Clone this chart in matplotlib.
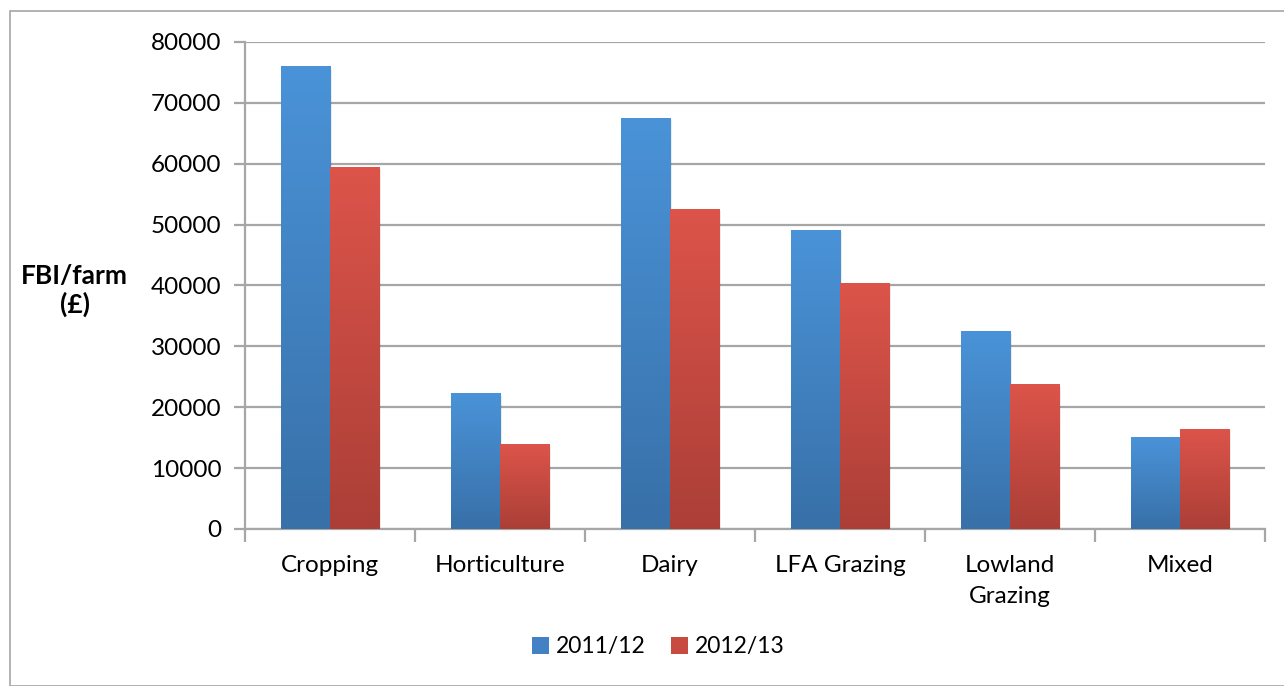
import matplotlib.pyplot as plt
import numpy as np
from matplotlib.colors import LinearSegmentedColormap
from matplotlib.patches import Rectangle, Patch

plt.rcParams['font.family'] = ['Lato', 'DejaVu Sans']

# Data
categories = ['Cropping', 'Horticulture', 'Dairy', 'LFA Grazing', 'Lowland\nGrazing', 'Mixed']
fbi_2011 = [75900, 22200, 67500, 49100, 32400, 15100]
fbi_2012 = [59400, 13800, 52500, 40400, 23700, 16400]
series_names = ['2011/12', '2012/13']

# gradient colours (bottom -> top)
blue_cmap = LinearSegmentedColormap.from_list('b', ['#3870a8', '#4a93d8'])
red_cmap = LinearSegmentedColormap.from_list('r', ['#ab3f37', '#dc544a'])

fig = plt.figure(figsize=(12.84, 6.86), dpi=100)
ax = fig.add_axes([0.1908, 0.2289, 0.7944, 0.7099])

# outer chart border
fig.patches.append(Rectangle((10 / 1284, 0), 1.0, 1 - 11 / 686, transform=fig.transFigure,
                             fill=False, edgecolor='#a6a6a6', linewidth=1.2))

x = np.arange(len(categories))
w = 0.29
grad = np.linspace(0, 1, 256).reshape(-1, 1)

bars1 = ax.bar(x - w / 2, fbi_2011, w, color='none', zorder=3)
bars2 = ax.bar(x + w / 2, fbi_2012, w, color='none', zorder=3)
for bars, cmap in [(bars1, blue_cmap), (bars2, red_cmap)]:
    for b in bars:
        x0, h = b.get_x(), b.get_height()
        # faint shadow on the right side
        ax.add_patch(Rectangle((x0 + 0.01, 0), b.get_width(), h - 300, facecolor='#000000',
                               alpha=0.08, edgecolor='none', zorder=2.5))
        ax.imshow(grad, extent=[x0, x0 + b.get_width(), 0, h], origin='lower',
                  aspect='auto', cmap=cmap, zorder=3, interpolation='bilinear')

ax.set_xlim(-0.5, len(categories) - 0.5)
ax.set_ylim(0, 80000)
ax.set_yticks(np.arange(0, 80001, 10000))
ax.yaxis.grid(True, color='#a6a6a6', linewidth=1.6)
ax.set_axisbelow(True)

ax.set_xticks(x)
ax.set_xticklabels(categories, fontsize=17.5, linespacing=1.55)
ax.set_xticks(np.arange(-0.5, len(categories)), minor=True)
ax.tick_params(axis='x', which='major', length=0, pad=19)
ax.tick_params(axis='x', which='minor', length=9, width=1.6, color='#a6a6a6')
ax.tick_params(axis='y', length=8, width=1.6, color='#a6a6a6', labelsize=17.5, pad=9)

for s in ['top', 'right']:
    ax.spines[s].set_visible(False)
for s in ['left', 'bottom']:
    ax.spines[s].set_color('#a6a6a6')
    ax.spines[s].set_linewidth(1.6)

ax.set_ylabel('FBI/farm\n(£)', fontsize=19, fontweight='bold', rotation=0,
              ha='center', va='center', linespacing=1.2)
ax.yaxis.set_label_coords(-0.167, 0.49)

handles = [Patch(facecolor='#4282c4'), Patch(facecolor='#c84b42')]
fig.legend(handles, series_names, loc='center', bbox_to_anchor=(0.513, 1 - 647 / 686),
           ncol=2, frameon=False, fontsize=16.5, handlelength=0.75, handleheight=0.75,
           handletextpad=0.3, columnspacing=1.1)

fig.savefig('out.png', dpi=100)
